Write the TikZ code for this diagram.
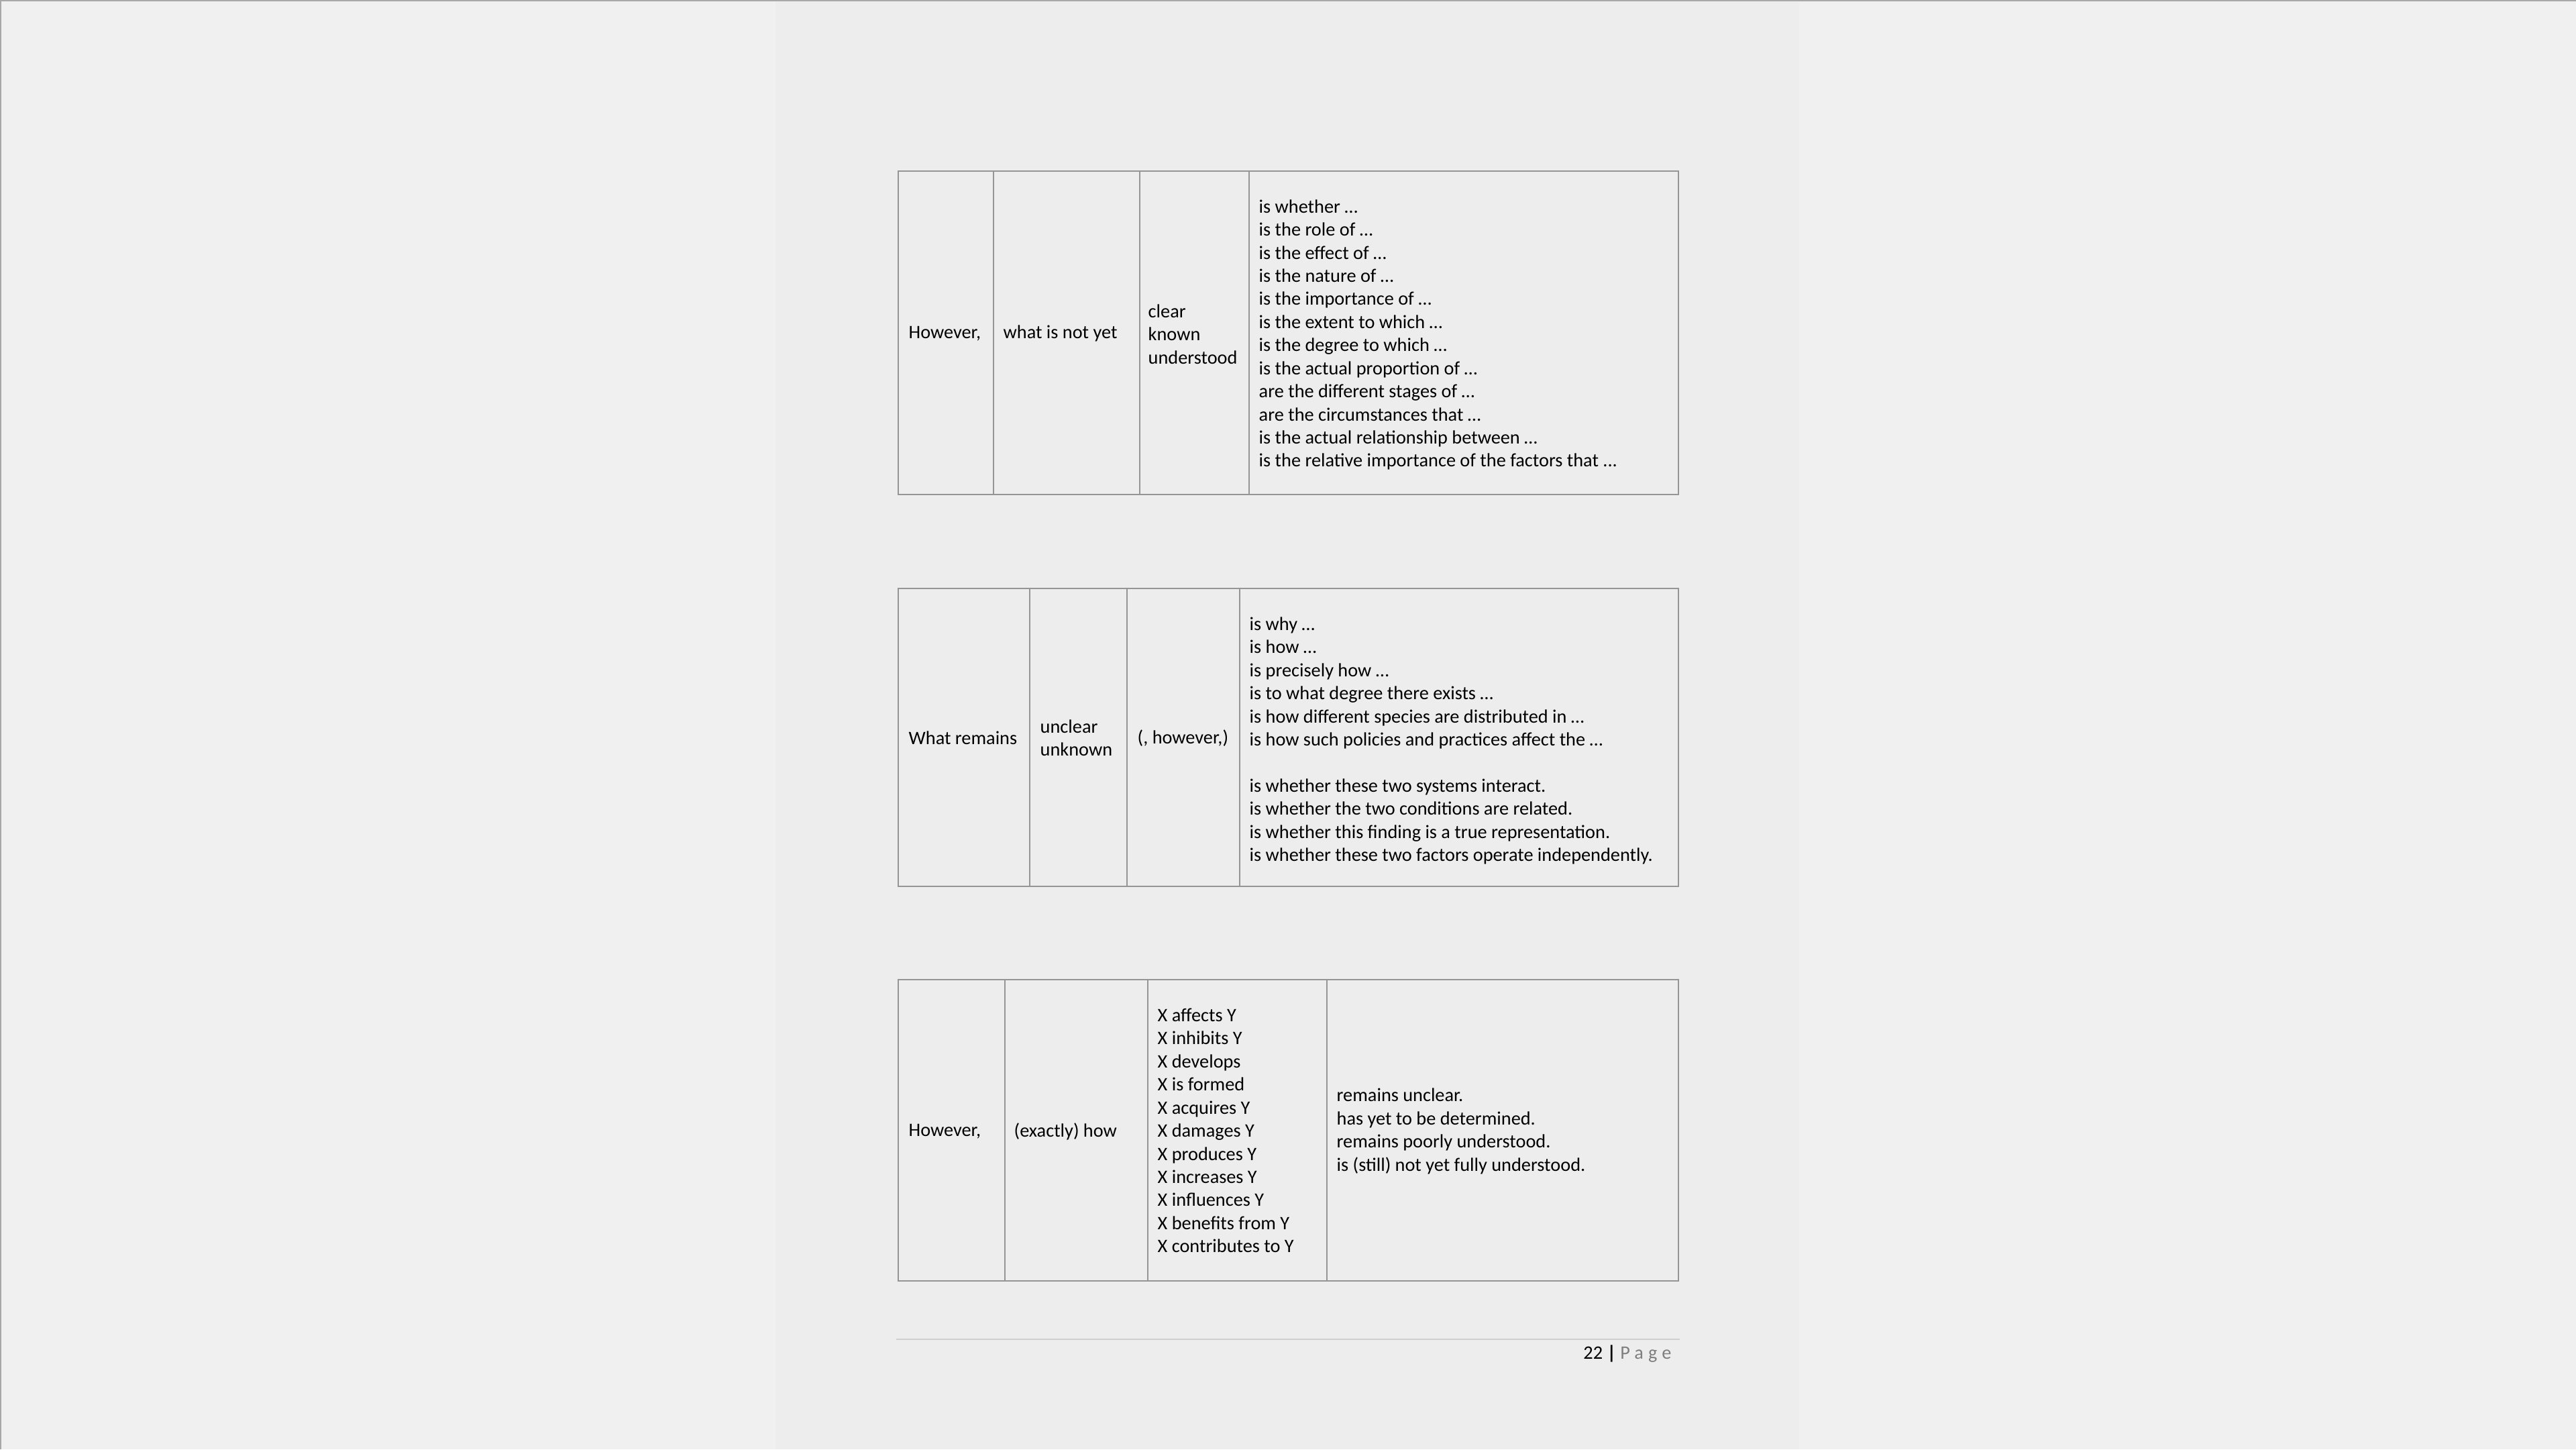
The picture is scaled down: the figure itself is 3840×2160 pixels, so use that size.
\documentclass[tikz,border=0pt]{standalone}
\usepackage{fontspec}
\setmainfont{Carlito}
\usepackage{tikz}

\definecolor{outerbg}{HTML}{F0F0F0}
\definecolor{pagebg}{HTML}{EDEDED}
\definecolor{rulegray}{HTML}{959595}
\definecolor{framegray}{HTML}{A8A8A8}
\definecolor{footgray}{HTML}{CFCFCF}
\definecolor{pagegray}{HTML}{7F7F7F}
\newcommand{\tablefont}{\fontsize{8.05}{9.79}\selectfont}

\begin{document}
\begin{tikzpicture}[x=0.01cm, y=-0.01cm,
    cell/.style={anchor=west, inner sep=0pt, align=left, font=\tablefont},
    grid/.style={draw=rulegray, line width=0.02cm}]
      \useasboundingbox (0,0) rectangle (3840,2160);
      % Background and page
      \fill[outerbg] (0,0) rectangle (3840,2160);
      \fill[pagebg] (1156,0) rectangle (2682,2160);
      \draw[framegray, line width=0.04cm] (0,2160) -- (0,0) -- (3840,0);
      % First table
      \draw[grid] (1339,255) rectangle (2502,737);
      \draw[grid] (1481,255) -- (1481,737);
      \draw[grid] (1699,255) -- (1699,737);
      \draw[grid] (1862,255) -- (1862,737);
      \node[cell] (howA) at (1354,497) {However,};
      \node[cell] (notyet) at (1495,497) {what is not yet};
      \node[cell] (clear) at (1711,498) {clear\\known\\understood};
      \node[cell] (whether) at (1876,499) {is whether …\\is the role of …\\is the effect of …\\is the nature of …\\is the importance of …\\is the extent to which …\\is the degree to which …\\is the actual proportion of …\\are the different stages of …\\are the circumstances that …\\is the actual relationship between …\\is the relative importance of the factors that ...};
      % Second table
      \draw[grid] (1339,877) rectangle (2502,1321);
      \draw[grid] (1535,877) -- (1535,1321);
      \draw[grid] (1680,877) -- (1680,1321);
      \draw[grid] (1848,877) -- (1848,1321);
      \node[cell] (remains) at (1354,1100) {What remains};
      \node[cell] (unclear) at (1550,1100) {unclear\\unknown};
      \node[cell] (however) at (1695,1100) {(, however,)};
      \node[cell] (why) at (1862,1104) {is why …\\is how …\\is precisely how …\\is to what degree there exists …\\is how different species are distributed in …\\is how such policies and practices affect the …\\ \\is whether these two systems interact.\\is whether the two conditions are related.\\is whether this finding is a true representation.\\is whether these two factors operate independently.};
      % Third table
      \draw[grid] (1339,1460) rectangle (2502,1909);
      \draw[grid] (1498,1460) -- (1498,1909);
      \draw[grid] (1711,1460) -- (1711,1909);
      \draw[grid] (1978,1460) -- (1978,1909);
      \node[cell] (howB) at (1354,1686) {However,};
      \node[cell] (exactly) at (1511,1686) {(exactly) how};
      \node[cell] (affects) at (1725,1685) {X affects Y\\X inhibits Y\\X develops\\X is formed\\X acquires Y\\X damages Y\\X produces Y\\X increases Y\\X influences Y\\X benefits from Y\\X contributes to Y};
      \node[cell] (unclearB) at (1992,1686) {remains unclear.\\has yet to be determined.\\remains poorly understood.\\is (still) not yet fully understood.};
      % Footer
      \draw[footgray, line width=0.02cm] (1336,1996) -- (2504,1996);
      \node[cell, anchor=east] (pagenum) at (2492,2018) {22 \textbf{|} {\color{pagegray}\addfontfeature{LetterSpace=25}Page}};
    \end{tikzpicture}
\end{document}
